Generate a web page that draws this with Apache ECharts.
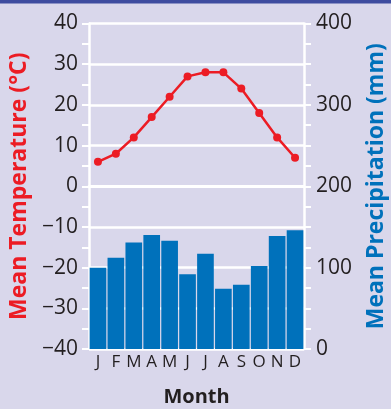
<!DOCTYPE html>
<html>
<head>
<meta charset="utf-8">
<script src="https://cdn.jsdelivr.net/npm/echarts@6/dist/echarts.min.js"></script>
<style>
  html, body { margin: 0; padding: 0; background: #d9d7eb; }
  #chart { width: 391px; height: 409px; }
</style>
</head>
<body>
<div id="chart"></div>
<script>
// Climate graph: monthly mean temperature (line) and precipitation (bars)
const months = ['J', 'F', 'M', 'A', 'M', 'J', 'J', 'A', 'S', 'O', 'N', 'D'];
const temperature = [6, 8, 12, 17, 22, 27, 28, 28, 24, 18, 12, 7];
const precipitation = [100, 112, 131, 140, 133, 92, 117, 74, 79, 102, 139, 146];

const FONT = '"Open Sans", "Noto Sans", sans-serif';
const TEXT = '#231f20';
const RED = '#ec1c24';
const BLUE = '#0071bb';
const GRID = '#ffffff';

const chart = echarts.init(document.getElementById('chart'), null, { renderer: 'canvas' });

chart.setOption({
  backgroundColor: '#d9d7eb',
  animation: false,
  graphic: [{
    type: 'rect',
    left: 0, top: 0,
    shape: { width: 391, height: 3.5 },
    style: { fill: '#3e4c9f' }
  }],
  grid: { left: 89, right: 87, top: 23.5, bottom: 60, outerBoundsMode: 'none', containLabel: false },
  xAxis: {
    type: 'category',
    data: months,
    boundaryGap: true,
    axisLine: { show: true, lineStyle: { color: GRID, width: 3 } },
    axisTick: { show: false },
    axisLabel: { color: TEXT, fontFamily: FONT, fontSize: 17, margin: 5, interval: 0 },
    name: 'Month',
    nameLocation: 'middle',
    nameGap: 38,
    nameTextStyle: { color: TEXT, fontFamily: FONT, fontSize: 20, fontWeight: 'bold' }
  },
  yAxis: [{
    type: 'value',
    min: -40, max: 40, interval: 10,
    position: 'left',
    axisLine: { show: true, lineStyle: { color: GRID, width: 2.5 } },
    axisTick: { show: true, length: 7, lineStyle: { color: GRID, width: 2 } },
    minorTick: { show: true, splitNumber: 2, length: 7, lineStyle: { color: GRID, width: 2 } },
    splitLine: { show: true, lineStyle: { color: GRID, width: 2.5 } },
    axisLabel: {
      color: TEXT, fontFamily: FONT, fontSize: 21, margin: 11,
      formatter: v => String(v).replace('-', '\u2212')
    },
    name: 'Mean Temperature (\u00b0C)',
    nameLocation: 'middle',
    nameRotate: 90,
    nameGap: 54,
    nameTextStyle: { color: RED, fontFamily: FONT, fontSize: 23, fontWeight: 'bold' }
  }, {
    type: 'value',
    min: 0, max: 400, interval: 100,
    position: 'right',
    axisLine: { show: true, lineStyle: { color: GRID, width: 2.5 } },
    axisTick: { show: true, length: 7, lineStyle: { color: GRID, width: 2 } },
    minorTick: { show: true, splitNumber: 4, length: 7, lineStyle: { color: GRID, width: 2 } },
    splitLine: { show: false },
    axisLabel: { color: TEXT, fontFamily: FONT, fontSize: 21, margin: 12 },
    name: 'Mean Precipitation (mm)',
    nameLocation: 'middle',
    nameRotate: 90,
    nameGap: 61,
    nameTextStyle: { color: BLUE, fontFamily: FONT, fontSize: 23, fontWeight: 'bold' }
  }],
  series: [{
    type: 'bar',
    yAxisIndex: 1,
    data: precipitation,
    barCategoryGap: '7%',
    itemStyle: { color: BLUE },
    z: 2
  }, {
    type: 'line',
    yAxisIndex: 0,
    data: temperature,
    symbol: 'circle',
    symbolSize: 8,
    lineStyle: { color: RED, width: 2.5 },
    itemStyle: { color: RED },
    z: 3
  }]
});
</script>
</body>
</html>
